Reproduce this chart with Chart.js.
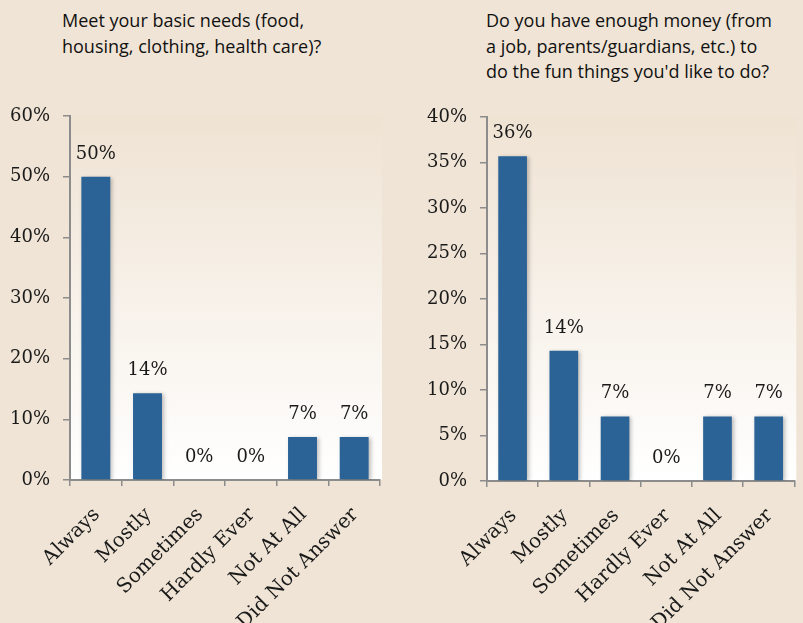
<!DOCTYPE html>
<html lang="en">
<head>
    <meta charset="UTF-8">
    <title>Survey charts</title>
    <script src="https://cdn.jsdelivr.net/npm/chart.js@4.4.0/dist/chart.umd.min.js"></script>
    <style>
        html, body {
            margin: 0;
            padding: 0;
            width: 803px;
            height: 623px;
            overflow: hidden;
            background: #efe4d5;
        }
        .title {
            position: absolute;
            font-family: "Open Sans", Lato, sans-serif;
            font-size: 18px;
            line-height: 25.5px;
            color: #111;
            white-space: nowrap;
        }
        canvas {
            position: absolute;
            top: 0;
        }
    </style>
</head>
<body>
    <div class="title" id="t1" style="left:62px; top:8px;">Meet your basic needs (food,<br>housing, clothing, health care)?</div>
    <div class="title" id="t2" style="left:486px; top:8px;">Do you have enough money (from<br>a job, parents/guardians, etc.) to<br>do the fun things you'd like to do?</div>

    <canvas id="chartLeft" width="401" height="623" style="left:0px;"></canvas>
    <canvas id="chartRight" width="402" height="623" style="left:401px;"></canvas>

    <script>
        // data
        const categories = ['Always', 'Mostly', 'Sometimes', 'Hardly Ever', 'Not At All', 'Did Not Answer'];
        const basicNeeds = [50, 14.3, 0, 0, 7.1, 7.1];
        const funMoney = [35.7, 14.3, 7.1, 0, 7.1, 7.1];
        const leftTicks = { max: 60, step: 10 };
        const rightTicks = { max: 40, step: 5 };

        const serif = "'DejaVu Serif', serif";
        const axisGray = '#8c8c8c';
        const barBlue = '#2b6396';

        // gradient behind the plot area, bar shadow, value labels
        const plotBg = {
            id: 'plotBg',
            beforeDraw(chart) {
                const a = chart.chartArea;
                const ctx = chart.ctx;
                const g = ctx.createLinearGradient(0, a.top, 0, a.bottom);
                g.addColorStop(0, '#efe3d3');
                g.addColorStop(1, '#ffffff');
                ctx.save();
                ctx.fillStyle = g;
                ctx.fillRect(a.left, a.top, a.right - a.left + 2, a.bottom - a.top);
                ctx.restore();
            },
            beforeDatasetsDraw(chart) {
                const ctx = chart.ctx;
                ctx.save();
                ctx.shadowColor = 'rgba(0,0,0,0.25)';
                ctx.shadowBlur = 4;
                ctx.shadowOffsetX = 2;
                ctx.shadowOffsetY = 1;
            },
            afterDatasetsDraw(chart) {
                chart.ctx.restore();
                const ctx = chart.ctx;
                const meta = chart.getDatasetMeta(0);
                const vals = chart.data.datasets[0].data;
                ctx.save();
                ctx.font = '18px ' + serif;
                ctx.fillStyle = '#1a1a1a';
                ctx.textAlign = 'center';
                ctx.textBaseline = 'alphabetic';
                meta.data.forEach((bar, i) => {
                    ctx.fillText(Math.round(vals[i]) + '%', bar.x, bar.y - 18);
                });
                ctx.restore();
            }
        };

        function makeChart(id, values, ticks, pad, yWidth) {
            return new Chart(document.getElementById(id), {
                type: 'bar',
                data: {
                    labels: categories,
                    datasets: [{
                        data: values,
                        backgroundColor: barBlue,
                        barPercentage: 0.56,
                        categoryPercentage: 1
                    }]
                },
                options: {
                    responsive: false,
                    animation: false,
                    layout: { padding: pad },
                    plugins: { legend: { display: false }, tooltip: { enabled: false } },
                    scales: {
                        x: {
                            offset: true,
                            grid: { offset: true, drawOnChartArea: false, color: axisGray, lineWidth: 1.5, tickLength: 6 },
                            border: { color: axisGray, width: 2 },
                            ticks: {
                                font: { family: serif, size: 20 },
                                color: '#1a1a1a',
                                maxRotation: 45,
                                minRotation: 45,
                                autoSkip: false,
                                padding: 17,
                                labelOffset: 1
                            },
                            afterFit(scale) { scale.height = 623 - pad.top - 364 - pad.bottom; }
                        },
                        y: {
                            min: 0,
                            max: ticks.max,
                            grid: { drawOnChartArea: false, color: axisGray, lineWidth: 1.5, tickLength: 7 },
                            border: { color: axisGray, width: 2 },
                            ticks: {
                                stepSize: ticks.step,
                                font: { family: serif, size: 18 },
                                color: '#1a1a1a',
                                padding: 13,
                                callback: v => v + '%'
                            },
                            afterFit(scale) { scale.width = yWidth; }
                        }
                    }
                },
                plugins: [plotBg]
            });
        }

        makeChart('chartLeft', basicNeeds, leftTicks, { top: 116, right: 21, bottom: 0, left: 0 }, 70);
        makeChart('chartRight', funMoney, rightTicks, { top: 117, right: 4, bottom: 0, left: 0 }, 86);
    </script>
</body>
</html>
